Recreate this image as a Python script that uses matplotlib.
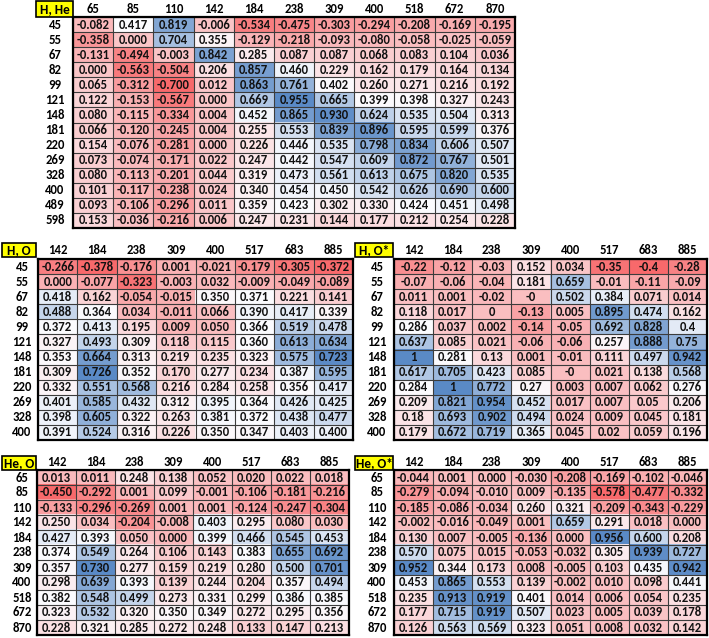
import numpy as np
import matplotlib
matplotlib.use("Agg")
import matplotlib.pyplot as plt
from matplotlib.colors import LinearSegmentedColormap, TwoSlopeNorm
from matplotlib.patches import Rectangle
from matplotlib import font_manager

# ---------------- data ----------------
hhe_rows = ["45", "55", "67", "82", "99", "121", "148", "181", "220", "269", "328", "400", "489", "598"]
hhe_cols = ["65", "85", "110", "142", "184", "238", "309", "400", "518", "672", "870"]
hhe_vals = [
    [-0.082, 0.417, 0.819, -0.006, -0.534, -0.475, -0.303, -0.294, -0.208, -0.169, -0.195],
    [-0.358, 0.000, 0.704, 0.355, -0.129, -0.218, -0.093, -0.080, -0.058, -0.025, -0.059],
    [-0.131, -0.494, -0.003, 0.842, 0.285, 0.087, 0.087, 0.068, 0.083, 0.104, 0.036],
    [0.000, -0.563, -0.504, 0.206, 0.857, 0.460, 0.229, 0.162, 0.179, 0.164, 0.134],
    [0.065, -0.312, -0.700, 0.012, 0.863, 0.761, 0.402, 0.260, 0.271, 0.216, 0.192],
    [0.122, -0.153, -0.567, 0.000, 0.669, 0.955, 0.665, 0.399, 0.398, 0.327, 0.243],
    [0.080, -0.115, -0.334, 0.004, 0.452, 0.865, 0.930, 0.624, 0.535, 0.504, 0.313],
    [0.066, -0.120, -0.245, 0.004, 0.255, 0.553, 0.839, 0.896, 0.595, 0.599, 0.376],
    [0.154, -0.076, -0.281, 0.000, 0.226, 0.446, 0.535, 0.798, 0.834, 0.606, 0.507],
    [0.073, -0.074, -0.171, 0.022, 0.247, 0.442, 0.547, 0.609, 0.872, 0.767, 0.501],
    [0.080, -0.113, -0.201, 0.044, 0.319, 0.473, 0.561, 0.613, 0.675, 0.820, 0.535],
    [0.101, -0.117, -0.238, 0.024, 0.340, 0.454, 0.450, 0.542, 0.626, 0.690, 0.600],
    [0.093, -0.106, -0.296, 0.011, 0.359, 0.423, 0.302, 0.330, 0.424, 0.451, 0.498],
    [0.153, -0.036, -0.216, 0.006, 0.247, 0.231, 0.144, 0.177, 0.212, 0.254, 0.228],
]

ho_rows = ["45", "55", "67", "82", "99", "121", "148", "181", "220", "269", "328", "400"]
ho_cols = ["142", "184", "238", "309", "400", "517", "683", "885"]
ho_vals = [
    [-0.266, -0.378, -0.176, 0.001, -0.021, -0.179, -0.305, -0.372],
    [0.000, -0.077, -0.323, -0.003, 0.032, -0.009, -0.049, -0.089],
    [0.418, 0.162, -0.054, -0.015, 0.350, 0.371, 0.221, 0.141],
    [0.488, 0.364, 0.034, -0.011, 0.066, 0.390, 0.417, 0.339],
    [0.372, 0.413, 0.195, 0.009, 0.050, 0.366, 0.519, 0.478],
    [0.327, 0.493, 0.309, 0.118, 0.115, 0.360, 0.613, 0.634],
    [0.353, 0.664, 0.313, 0.219, 0.235, 0.323, 0.575, 0.723],
    [0.309, 0.726, 0.352, 0.170, 0.277, 0.234, 0.387, 0.595],
    [0.332, 0.551, 0.568, 0.216, 0.284, 0.258, 0.356, 0.417],
    [0.401, 0.585, 0.432, 0.312, 0.395, 0.364, 0.426, 0.425],
    [0.398, 0.605, 0.322, 0.263, 0.381, 0.372, 0.438, 0.477],
    [0.391, 0.524, 0.316, 0.226, 0.350, 0.347, 0.403, 0.400],
]

hos_rows = ho_rows
hos_cols = ho_cols
hos_vals = [
    [-0.22, -0.12, -0.03, 0.152, 0.034, -0.35, -0.4, -0.28],
    [-0.07, -0.06, -0.04, 0.181, 0.659, -0.01, -0.11, -0.09],
    [0.011, 0.001, -0.02, -0.0, 0.502, 0.384, 0.071, 0.014],
    [0.118, 0.017, 0.0, -0.13, 0.005, 0.895, 0.474, 0.162],
    [0.286, 0.037, 0.002, -0.14, -0.05, 0.692, 0.828, 0.4],
    [0.637, 0.085, 0.021, -0.06, -0.06, 0.257, 0.888, 0.75],
    [1.0, 0.281, 0.13, 0.001, -0.01, 0.111, 0.497, 0.942],
    [0.617, 0.705, 0.423, 0.085, -0.0, 0.021, 0.138, 0.568],
    [0.284, 1.0, 0.772, 0.27, 0.003, 0.007, 0.062, 0.276],
    [0.209, 0.821, 0.954, 0.452, 0.017, 0.007, 0.05, 0.206],
    [0.18, 0.693, 0.902, 0.494, 0.024, 0.009, 0.045, 0.181],
    [0.179, 0.672, 0.719, 0.365, 0.045, 0.02, 0.059, 0.196],
]

heo_rows = ["65", "85", "110", "142", "184", "238", "309", "400", "518", "672", "870"]
heo_cols = ["142", "184", "238", "309", "400", "517", "683", "885"]
heo_vals = [
    [0.013, 0.011, 0.248, 0.138, 0.052, 0.020, 0.022, 0.018],
    [-0.450, -0.292, 0.001, 0.099, -0.001, -0.106, -0.181, -0.216],
    [-0.133, -0.296, -0.269, 0.001, 0.001, -0.124, -0.247, -0.304],
    [0.250, 0.034, -0.204, -0.008, 0.403, 0.295, 0.080, 0.030],
    [0.427, 0.393, 0.050, 0.000, 0.399, 0.466, 0.545, 0.453],
    [0.374, 0.549, 0.264, 0.106, 0.143, 0.383, 0.655, 0.692],
    [0.357, 0.730, 0.277, 0.159, 0.219, 0.280, 0.500, 0.701],
    [0.298, 0.639, 0.393, 0.139, 0.244, 0.204, 0.357, 0.494],
    [0.382, 0.548, 0.499, 0.273, 0.331, 0.299, 0.386, 0.385],
    [0.323, 0.532, 0.320, 0.350, 0.349, 0.272, 0.295, 0.356],
    [0.228, 0.321, 0.285, 0.272, 0.248, 0.133, 0.147, 0.213],
]

heos_rows = heo_rows
heos_cols = heo_cols
heos_vals = [
    [-0.044, 0.001, 0.000, -0.030, -0.208, -0.169, -0.102, -0.046],
    [-0.279, -0.094, -0.010, 0.009, -0.135, -0.578, -0.477, -0.332],
    [-0.185, -0.086, -0.034, 0.260, 0.321, -0.209, -0.343, -0.229],
    [-0.002, -0.016, -0.049, 0.001, 0.659, 0.291, 0.018, 0.000],
    [0.130, 0.007, -0.005, -0.136, 0.000, 0.956, 0.600, 0.208],
    [0.570, 0.075, 0.015, -0.053, -0.032, 0.305, 0.939, 0.727],
    [0.952, 0.344, 0.173, 0.008, -0.005, 0.103, 0.435, 0.942],
    [0.453, 0.865, 0.553, 0.139, -0.002, 0.010, 0.098, 0.441],
    [0.235, 0.913, 0.919, 0.401, 0.014, 0.006, 0.054, 0.235],
    [0.177, 0.715, 0.919, 0.507, 0.023, 0.005, 0.039, 0.178],
    [0.126, 0.563, 0.569, 0.323, 0.051, 0.008, 0.032, 0.142],
]

# ---------------- style ----------------
W, H = 709, 638
available = {f.name for f in font_manager.fontManager.ttflist}
if "Carlito" in available:
    FONT, FS = "Carlito", 9.2
elif "Liberation Sans Narrow" in available:
    FONT, FS = "Liberation Sans Narrow", 8.4
else:
    FONT, FS = "Lato", 8.0
plt.rcParams["font.family"] = [FONT, "DejaVu Sans"]

cmap = LinearSegmentedColormap.from_list(
    "excel_rwb", ["#F8696B", "#FCFCFF", "#5A8AC6"])

fig = plt.figure(figsize=(W / 100, H / 100), dpi=100)
fig.patch.set_facecolor("white")


def px_axes(x0, y0, x1, y1):
    return fig.add_axes([x0 / W, 1 - y1 / H, (x1 - x0) / W, (y1 - y0) / H])


def label_box(text, x0, y0, x1, y1):
    fig.patches.append(Rectangle((x0 / W, 1 - y1 / H), (x1 - x0) / W, (y1 - y0) / H,
                                 transform=fig.transFigure, facecolor="#FFFF00",
                                 edgecolor="black", linewidth=1.2, zorder=5))
    fig.text((x0 + x1) / 2 / W, 1 - (y0 + y1) / 2 / H, text, ha="center", va="center",
             fontsize=FS + 0.3, fontweight="bold", zorder=6)


def table(rows, cols, vals, box, mid, fmt, label, lbox, row_off, head_off):
    v = np.array(vals, dtype=float)
    ax = px_axes(*box)
    norm = TwoSlopeNorm(vmin=v.min(), vcenter=mid, vmax=v.max())
    ax.imshow(v, cmap=cmap, norm=norm, aspect="auto", interpolation="nearest")
    nr, nc = v.shape
    ax.set_xticks([])
    ax.set_yticks([])
    ax.set_xticks(np.arange(-0.5, nc, 1), minor=True)
    ax.set_yticks(np.arange(-0.5, nr, 1), minor=True)
    ax.grid(which="minor", color="#3c3c3c", linewidth=0.8)
    ax.tick_params(which="both", length=0)
    for s in ax.spines.values():
        s.set_linewidth(1.6)
        s.set_color("black")
    for i in range(nr):
        for j in range(nc):
            ax.text(j, i, fmt(v[i, j]), ha="center", va="center",
                    fontsize=FS, fontweight="bold", color="#111111")
    for j, c in enumerate(cols):
        ax.annotate(c, xy=(j, 1), xycoords=ax.get_xaxis_transform(),
                    xytext=(0, head_off), textcoords="offset pixels",
                    ha="center", va="center", fontsize=FS, fontweight="bold",
                    annotation_clip=False)
    for i, r in enumerate(rows):
        ax.annotate(r, xy=(0, i), xycoords=ax.get_yaxis_transform(),
                    xytext=(-row_off, 0), textcoords="offset pixels",
                    ha="center", va="center", fontsize=FS, fontweight="bold",
                    annotation_clip=False)
    label_box(label, *lbox)
    return ax


f3 = lambda x: f"{x:.3f}"
fg = lambda x: f"{x:g}"

table(hhe_rows, hhe_cols, hhe_vals, (73, 17, 515, 228), 0.42, f3, "H, He", (36, 1, 73, 17), 18, 8)
table(ho_rows, ho_cols, ho_vals, (38, 259, 353, 440), 0.37, f3, "H, O", (2, 243, 36, 257), 16, 9)
table(hos_rows, hos_cols, hos_vals, (394, 259, 707, 440), 0.29, fg, "H, O*", (355, 243, 393, 257), 17, 9)
table(heo_rows, heo_cols, heo_vals, (37, 470, 349, 635), 0.38, f3, "He, O", (2, 456, 36, 470), 15, 8)
table(heos_rows, heos_cols, heos_vals, (394, 470, 707, 635), 0.42, f3, "He, O*", (355, 456, 393, 470), 17, 8)

fig.savefig("out.png", dpi=100, facecolor="white")
